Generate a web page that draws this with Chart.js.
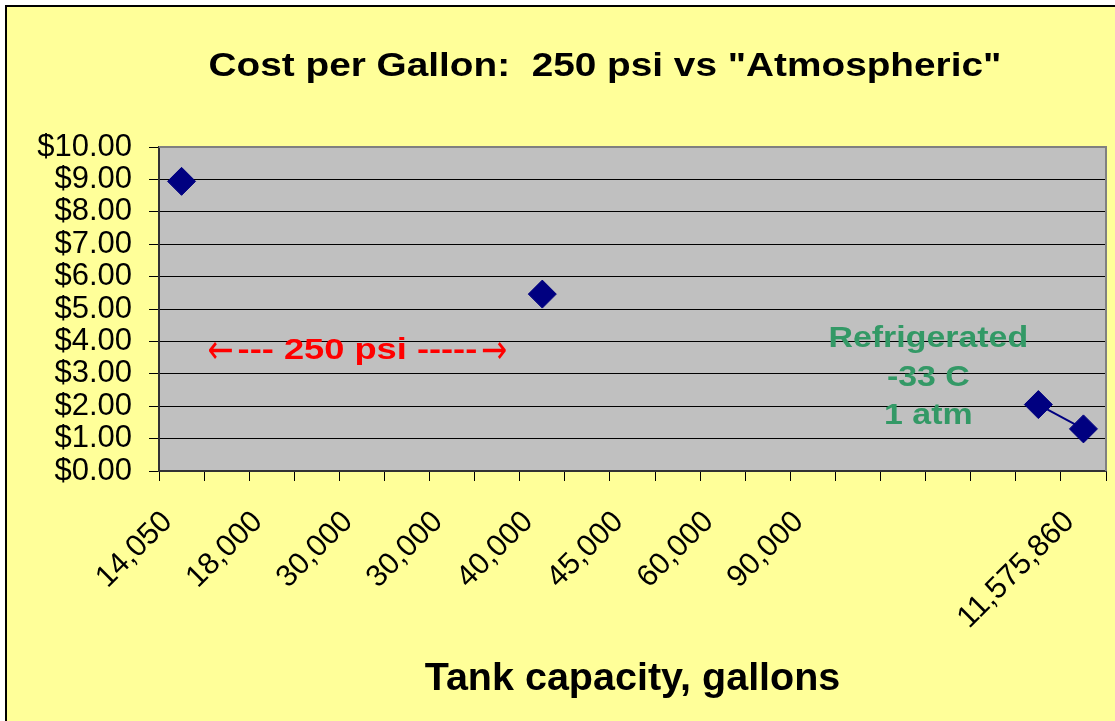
<!DOCTYPE html>
<html><head><meta charset="utf-8">
<script src="https://cdn.jsdelivr.net/npm/chart.js@4.4.1/dist/chart.umd.min.js"></script>
<style>html,body{margin:0;padding:0;background:#fff;} canvas{display:block;}</style>
</head><body>
<canvas id="c" width="1115" height="721"></canvas>
<script>
// ---- data ----
const categories = ['14,050','','18,000','','30,000','','30,000','','40,000','','45,000','','60,000','','90,000','','','','','','11,575,860'];
const costPerGallon = [8.94,null,null,null,null,null,null,null,5.46,null,null,null,null,null,null,null,null,null,null,2.05,1.30];
const yTickValues = [0,1,2,3,4,5,6,7,8,9,10];
const yTickLabels = ['$0.00','$1.00','$2.00','$3.00','$4.00','$5.00','$6.00','$7.00','$8.00','$9.00','$10.00'];
const chartTitle = 'Cost per Gallon:  250 psi vs "Atmospheric"';
const xTitle = 'Tank capacity, gallons';
const pressureNote = ['\u2190', '--- 250 psi -----', '\u2192'];
const refrigNote = ['Refrigerated','-33 C','1 atm'];

const FONT = '"Liberation Sans", Arial, sans-serif';
const ARROW_FONT = '"DejaVu Sans", sans-serif';

function stretchText(ctx, text, cx, baseline, font, color, sx){
  ctx.save();
  ctx.font = font; ctx.fillStyle = color; ctx.textAlign = 'center'; ctx.textBaseline = 'alphabetic';
  ctx.translate(cx, baseline); ctx.scale(sx, 1); ctx.fillText(text, 0, 0);
  ctx.restore();
}

function drawPressureNote(ctx, cx, baseline){
  const fonts = ['40px ' + ARROW_FONT, 'bold 29px ' + FONT, '40px ' + ARROW_FONT];
  const sxs = [0.78, 1.25, 0.78];
  const gap = 4;
  const mid = baseline - 7;
  ctx.save();
  ctx.fillStyle = '#FF0000'; ctx.textAlign = 'left';
  const widths = pressureNote.map((t, i) => { ctx.font = fonts[i]; return ctx.measureText(t).width * sxs[i]; });
  const total = widths.reduce((s, w) => s + w, 0) + gap * 2;
  let xx = cx - total / 2;
  pressureNote.forEach((t, i) => {
    ctx.save();
    ctx.font = fonts[i];
    if (i === 1) { ctx.textBaseline = 'alphabetic'; ctx.translate(xx, baseline); }
    else { ctx.textBaseline = 'middle'; ctx.translate(xx, mid); }
    ctx.scale(sxs[i], 1);
    ctx.fillText(t, 0, 0);
    ctx.restore();
    xx += widths[i] + gap;
  });
  ctx.restore();
}

const decor = {
  id: 'decor',
  beforeDraw(chart){
    const {ctx, width, height, chartArea: a} = chart;
    ctx.save();
    ctx.fillStyle = '#ffffff'; ctx.fillRect(0, 0, width, height);
    ctx.fillStyle = '#FFFF99'; ctx.fillRect(7, 7, width - 7, height - 7);
    ctx.fillStyle = '#000000';
    ctx.fillRect(5, 5, 2, height - 5);
    ctx.fillRect(5, 5, width - 5, 2);
    ctx.fillStyle = '#C0C0C0';
    ctx.fillRect(a.left, a.top, a.right - a.left, a.bottom - a.top);
    ctx.restore();
  },
  beforeDatasetsDraw(chart){
    const {ctx, chartArea: a} = chart;
    ctx.save();
    ctx.strokeStyle = '#808080'; ctx.lineWidth = 2;
    ctx.beginPath();
    ctx.moveTo(a.left, a.top); ctx.lineTo(a.right, a.top); ctx.lineTo(a.right, a.bottom);
    ctx.stroke();
    ctx.restore();
  },
  afterDatasetsDraw(chart){
    const {ctx, scales: {x, y}} = chart;
    stretchText(ctx, chartTitle, 605, 76, 'bold 34px ' + FONT, '#000000', 1.14);
    drawPressureNote(ctx, x.getPixelForValue(3.9), y.getPixelForValue(3.45));
    const gx = x.getPixelForValue(16.56);
    const gy = [3.83, 2.62, 1.45];
    refrigNote.forEach((t, i) => stretchText(ctx, t, gx, y.getPixelForValue(gy[i]), 'bold 30px ' + FONT, '#339966', 1.13));
  }
};

new Chart(document.getElementById('c'), {
  type: 'line',
  data: {
    labels: categories,
    datasets: [{
      data: costPerGallon,
      borderColor: '#000080',
      borderWidth: 2,
      backgroundColor: '#000080',
      pointStyle: 'rectRot',
      pointRadius: 14,
      pointBorderWidth: 1,
      pointBorderColor: '#000080',
      pointBackgroundColor: '#000080',
      spanGaps: false,
      tension: 0
    }]
  },
  options: {
    responsive: false,
    animation: false,
    devicePixelRatio: 1,
    layout: { autoPadding: false, padding: { left: 0, right: 9, top: 147, bottom: 0 } },
    plugins: { legend: { display: false }, title: { display: false }, tooltip: { enabled: false } },
    scales: {
      x: {
        type: 'category',
        offset: true,
        grid: { offset: true, drawOnChartArea: false, drawTicks: true, tickLength: 10, color: '#000', tickColor: '#000', lineWidth: 1 },
        border: { display: true, color: '#333333', width: 2 },
        ticks: { autoSkip: false, maxRotation: 45, minRotation: 45, padding: 23, labelOffset: -14, color: '#000', font: { family: FONT, size: 30.5 } },
        title: { display: true, text: xTitle, color: '#000', font: { family: FONT, size: 39.5, weight: 'bold' }, padding: { top: 0, bottom: 18 } },
        afterFit(s){ s.height = 250; s.paddingLeft = 0; s.paddingRight = 0; }
      },
      y: {
        min: yTickValues[0],
        max: yTickValues[yTickValues.length - 1],
        grid: { color: '#000', tickColor: '#000', tickLength: 10, lineWidth: 1 },
        border: { display: true, color: '#333333', width: 2 },
        ticks: { stepSize: 1, autoSkip: false, padding: 17, color: '#000', font: { family: FONT, size: 31 },
                 callback: (v) => yTickLabels[yTickValues.indexOf(v)] },
        afterFit(s){ s.width = 159; s.paddingTop = 0; s.paddingBottom = 0; }
      }
    }
  },
  plugins: [decor]
});
</script>
</body></html>
